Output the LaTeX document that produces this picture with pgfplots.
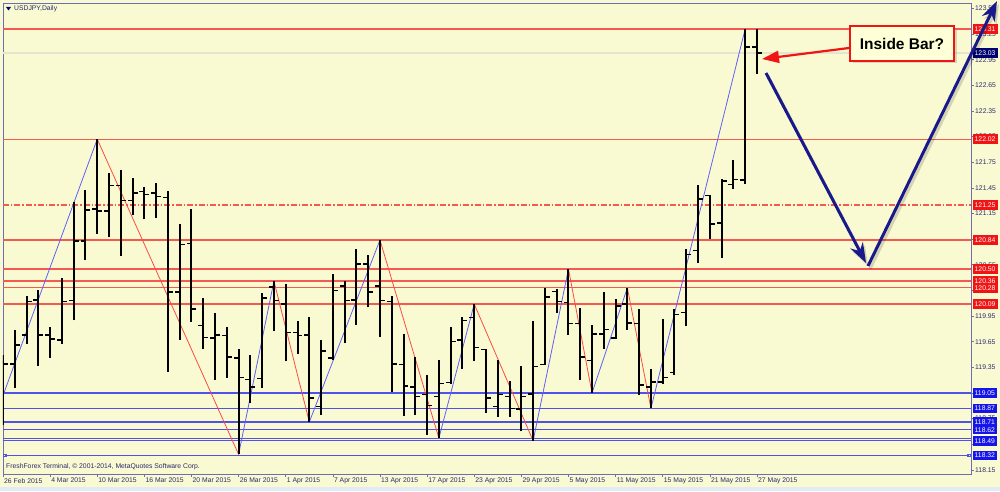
\documentclass[border=0pt]{standalone}
\usepackage{fontspec}
\setmainfont{Liberation Sans}
\usepackage{pgfplots}
\pgfplotsset{compat=1.18}
\usepackage{pgfplotstable}
\usetikzlibrary{arrows.meta,shadows}

\definecolor{bg}{RGB}{250,250,210}
\definecolor{strip}{RGB}{226,234,246}
\definecolor{frame}{RGB}{110,110,175}
\definecolor{lvlred}{RGB}{245,90,80}
\definecolor{lvlblue}{RGB}{80,80,235}
\definecolor{zzblue}{RGB}{95,95,250}
\definecolor{zzred}{RGB}{250,75,70}
\definecolor{bidgray}{RGB}{228,228,208}
\definecolor{txt}{RGB}{40,40,110}
\definecolor{boxred}{RGB}{240,20,20}
\definecolor{boxblue}{RGB}{20,20,235}
\definecolor{boxnavy}{RGB}{0,0,110}
\definecolor{navyarrow}{RGB}{25,25,140}
\definecolor{notefill}{RGB}{255,255,215}

% daily bars: index, open, high, low, close
\pgfplotstableread{
i  O      H      L      C
0  119.41 119.49 118.67 119.39
1  119.39 119.79 119.11 119.61
2  119.73 120.18 119.62 120.12
3  120.14 120.25 119.37 119.73
4  119.73 119.82 119.46 119.68
5  119.67 120.39 119.62 120.12
6  120.13 121.29 119.90 120.83
7  120.83 121.42 120.61 121.19
8  121.20 122.02 120.91 121.18
9  121.18 121.62 120.87 121.48
10 121.48 121.66 120.65 121.30
11 121.30 121.56 121.13 121.39
12 121.41 121.46 121.08 121.37
13 121.39 121.51 121.10 121.35
14 121.34 121.41 119.29 120.23
15 120.23 121.03 119.67 120.79
16 120.80 121.20 119.88 120.03
17 119.84 120.16 119.57 119.70
18 119.69 119.98 119.20 119.73
19 119.72 119.82 119.23 119.47
20 119.46 119.57 118.33 119.23
21 119.21 119.49 118.93 119.12
22 119.22 120.22 119.11 120.16
23 120.29 120.36 119.77 120.13
24 120.09 120.32 119.42 119.76
25 119.76 119.89 119.51 119.72
26 119.73 119.94 118.71 118.99
27 118.89 119.67 118.79 119.54
28 119.46 120.44 119.43 120.25
29 120.30 120.36 119.63 120.13
30 120.14 120.73 119.85 120.56
31 120.56 120.67 120.05 120.23
32 120.30 120.84 119.70 120.13
33 120.12 120.18 119.06 119.39
34 119.38 119.74 118.78 119.13
35 119.12 119.47 118.79 119.01
36 119.03 119.26 118.56 118.90
37 119.01 119.43 118.52 119.16
38 119.17 119.82 119.16 119.65
39 119.67 119.94 119.33 119.90
40 119.93 120.09 119.42 119.58
41 119.56 119.57 118.82 118.99
42 118.89 119.43 118.77 119.03
43 119.01 119.19 118.77 118.87
44 118.86 119.36 118.60 119.01
45 119.04 119.89 118.49 119.36
46 119.38 120.28 119.38 120.17
47 120.24 120.27 119.99 120.12
48 120.11 120.50 119.73 119.86
49 119.86 120.04 119.20 119.47
50 119.43 119.85 119.05 119.74
51 119.74 120.23 119.57 119.79
52 119.69 120.15 119.68 120.07
53 120.09 120.28 119.79 119.87
54 119.86 120.03 119.03 119.14
55 119.12 119.33 118.87 119.18
56 119.18 119.92 119.15 119.23
57 119.29 120.03 119.26 119.97
58 119.99 120.73 119.83 120.67
59 120.72 121.48 120.57 121.32
60 121.36 121.37 120.85 121.03
61 121.04 121.55 120.63 121.53
62 121.49 121.78 121.44 121.55
63 121.54 123.31 121.50 123.10
64 123.10 123.31 122.78 123.03
}\bars

\newcommand{\sm}{\fontsize{6.8}{8}\selectfont}
% horizontal level across the whole chart
\newcommand{\hl}[3][]{\addplot[#2, line width=1.3pt, #1] coordinates {(0,#3) (82.17,#3)};}

\begin{document}
\begin{tikzpicture}[x=1pt,y=1pt]
\fill[bg] (0,0) rectangle (1000,491);
\fill[strip] (0,0) rectangle (1000,4.5);
\path[use as bounding box] (0,0) rectangle (1000,491);
\begin{axis}[
    at={(3pt,17pt)}, anchor=south west,
    scale only axis, width=968pt, height=471pt,
    xmin=0, xmax=82.17, ymin=118.101, ymax=123.614,
    axis line style={draw=frame, line width=0.9pt},
    tick align=outside, major tick length=3pt,
    tick style={draw=frame, line width=0.6pt},
    ytick={118.15,118.45,118.75,119.05,119.35,119.65,119.95,120.25,120.55,120.85,121.15,121.45,121.75,122.05,122.35,122.65,122.95,123.25,123.55},
    ytick pos=right, yticklabel pos=right,
    scaled ticks=false,
    yticklabel style={font=\sm, text=txt, anchor=west, inner sep=1pt,
        /pgf/number format/fixed, /pgf/number format/fixed zerofill,
        /pgf/number format/precision=2, /pgf/number format/assume math mode=true},
    xtick={0,4,...,64},
    xticklabels={26 Feb 2015,4 Mar 2015,10 Mar 2015,16 Mar 2015,20 Mar 2015,26 Mar 2015,1 Apr 2015,7 Apr 2015,13 Apr 2015,17 Apr 2015,23 Apr 2015,29 Apr 2015,5 May 2015,11 May 2015,15 May 2015,21 May 2015,27 May 2015},
    xtick pos=left, xticklabel pos=left,
    xticklabel style={font=\sm, text=txt, anchor=north west, inner sep=1pt},
    bar/.style={only marks, mark=*, mark options={opacity=0, draw=none, fill=none}},
]
% support / resistance levels
\hl{bidgray}{123.03}
\hl{lvlred}{123.31}
\hl{lvlred}{122.02}
\hl[dash pattern=on 6pt off 2pt on 1.5pt off 2pt]{lvlred}{121.25}
\hl{lvlred}{120.84}
\hl{lvlred}{120.50}
\hl{lvlred}{120.36}
\hl{lvlred}{120.28}
\hl{lvlred}{120.09}
\hl{lvlblue}{119.05}
\hl{lvlblue}{118.87}
\hl{lvlblue}{118.71}
\hl{lvlblue}{118.62}
\hl{lvlblue}{118.52}
\hl{lvlblue}{118.49}
\addplot[lvlblue, line width=1.3pt, mark=square, mark size=1.4pt, mark options={line width=0.6pt}] coordinates {(0.15,118.32) (82.0,118.32)};

% zigzag legs
\addplot[zzblue, line width=0.8pt] coordinates {(0,119.02) (8,122.02)};
\addplot[zzred, line width=0.8pt] coordinates {(8,122.02) (20,118.33)};
\addplot[zzblue, line width=0.8pt] coordinates {(20,118.33) (23,120.36)};
\addplot[zzred, line width=0.8pt] coordinates {(23,120.36) (26,118.71)};
\addplot[zzblue, line width=0.8pt] coordinates {(26,118.71) (32,120.84)};
\addplot[zzred, line width=0.8pt] coordinates {(32,120.84) (37,118.52)};
\addplot[zzblue, line width=0.8pt] coordinates {(37,118.52) (40,120.09)};
\addplot[zzred, line width=0.8pt] coordinates {(40,120.09) (45,118.49)};
\addplot[zzblue, line width=0.8pt] coordinates {(45,118.49) (48,120.50)};
\addplot[zzred, line width=0.8pt] coordinates {(48,120.50) (50,119.05)};
\addplot[zzblue, line width=0.8pt] coordinates {(50,119.05) (53,120.28)};
\addplot[zzred, line width=0.8pt] coordinates {(53,120.28) (55,118.87)};
\addplot[zzblue, line width=0.8pt] coordinates {(55,118.87) (63,123.31)};

% OHLC bars: high-low range, open tick left, close tick right
\addplot[bar, error bars/.cd, y dir=plus, y explicit, error mark=none,
    error bar style={line width=2pt, black, opacity=1}]
    table[x=i, y=L, y error expr=\thisrow{H}-\thisrow{L}] {\bars};
\addplot[bar, error bars/.cd, x dir=minus, x fixed=0.42, error mark=none,
    error bar style={line width=1.5pt, black, opacity=1}]
    table[x=i, y=O] {\bars};
\addplot[bar, error bars/.cd, x dir=plus, x fixed=0.42, error mark=none,
    error bar style={line width=1.5pt, black, opacity=1}]
    table[x=i, y=C] {\bars};

\coordinate (p1) at (axis cs:82.17,123.31);
\coordinate (p2) at (axis cs:82.17,123.03);
\coordinate (p3) at (axis cs:82.17,122.02);
\coordinate (p4) at (axis cs:82.17,121.25);
\coordinate (p5) at (axis cs:82.17,120.84);
\coordinate (p6) at (axis cs:82.17,120.50);
\coordinate (p7) at (axis cs:82.17,120.36);
\coordinate (p8) at (axis cs:82.17,120.28);
\coordinate (p9) at (axis cs:82.17,120.09);
\coordinate (q1) at (axis cs:82.17,119.05);
\coordinate (q2) at (axis cs:82.17,118.87);
\coordinate (q3) at (axis cs:82.17,118.71);
\coordinate (q4) at (axis cs:82.17,118.62);
\coordinate (q5) at (axis cs:82.17,118.49);
\coordinate (q6) at (axis cs:82.17,118.32);
\end{axis}

% price boxes on the scale
\tikzset{lab/.style={anchor=west, xshift=1.5pt, inner xsep=2pt, inner ysep=0pt,
    minimum height=9.5pt, text=white, font=\sm}}
\node[lab, fill=boxred] at (p1) {123.31};
\node[lab, fill=boxnavy] at (p2) {123.03};
\node[lab, fill=boxred] at (p3) {122.02};
\node[lab, fill=boxred] at (p4) {121.25};
\node[lab, fill=boxred] at (p5) {120.84};
\node[lab, fill=boxred] at (p6) {120.50};
\node[lab, fill=boxred] at (p7) {120.36};
\node[lab, fill=boxred] at (p8) {120.28};
\node[lab, fill=boxred] at (p9) {120.09};
\node[lab, fill=boxblue] at (q1) {119.05};
\node[lab, fill=boxblue] at (q2) {118.87};
\node[lab, fill=boxblue] at (q3) {118.71};
\node[lab, fill=boxblue] at (q4) {118.62};
\node[lab, fill=boxblue] at (q5) {118.49};
\node[lab, fill=boxblue] at (q6) {118.32};

% chart title and footer
\fill[boxnavy] (6,484) -- (11,484) -- (8.5,480.5) -- cycle;
\node[anchor=west, inner sep=0pt, font=\sm, text=txt] at (14,482) {USDJPY,Daily};
\node[anchor=west, inner sep=0pt, font=\sm, text=txt] at (6,24) {FreshForex Terminal, © 2001-2014, MetaQuotes Software Corp.};

% annotation
\node[draw=boxred, line width=2pt, fill=notefill, minimum width=104pt, minimum height=35pt,
    inner sep=0pt, font=\fontsize{15.5}{18}\selectfont\bfseries,
    drop shadow={shadow xshift=2.5pt, shadow yshift=-2.5pt, opacity=0.3}]
    at (902,447.5) {Inside Bar?};
\draw[boxred, line width=2.2pt, -{Triangle[length=17pt,width=12pt]}] (849,443) -- (762,432);

\draw[black, opacity=0.15, line width=3pt, -{Stealth[length=20pt,width=14pt]}] (768,415) -- (868,225);
\draw[black, opacity=0.15, line width=3pt, -{Stealth[length=20pt,width=14pt]}] (870,222) -- (999,487);
\draw[navyarrow, line width=3pt, -{Stealth[length=20pt,width=14pt]}] (766,418) -- (866,228);
\draw[navyarrow, line width=3pt, -{Stealth[length=20pt,width=14pt]}] (868,225) -- (997,490);
\end{tikzpicture}
\end{document}
